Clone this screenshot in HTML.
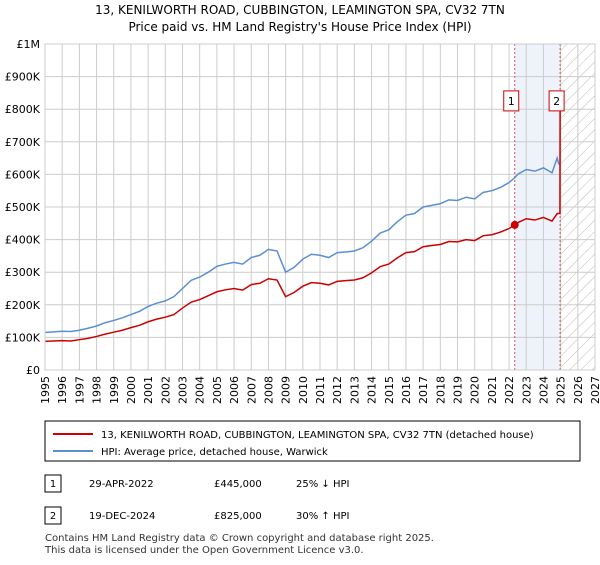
<!DOCTYPE html>
<html><head><meta charset="utf-8"><style>
body{margin:0;background:#fff;font-family:"Liberation Sans","DejaVu Sans",sans-serif;}
svg text{font-family:"DejaVu Sans","Liberation Sans",sans-serif;}
</style></head><body>
<svg id="c" width="600" height="560" viewBox="0 0 600 560" xmlns="http://www.w3.org/2000/svg">
<defs><pattern id="hatch" width="8" height="8" patternUnits="userSpaceOnUse" patternTransform="rotate(45)"><line x1="0" y1="0" x2="0" y2="8" stroke="#bbb" stroke-width="1"/></pattern></defs>
<text x="300" y="14" text-anchor="middle" font-size="12">13, KENILWORTH ROAD, CUBBINGTON, LEAMINGTON SPA, CV32 7TN</text>
<text x="300" y="31" text-anchor="middle" font-size="12">Price paid vs. HM Land Registry's House Price Index (HPI)</text>
<g id="plot"></g>
<rect x="45" y="421" width="535" height="40" fill="#fff" stroke="#000"/>
<line x1="53" y1="434" x2="93" y2="434" stroke="#cc0000" stroke-width="2"/>
<text x="101" y="438" font-size="10">13, KENILWORTH ROAD, CUBBINGTON, LEAMINGTON SPA, CV32 7TN (detached house)</text>
<line x1="53" y1="451" x2="93" y2="451" stroke="#5b8fd4" stroke-width="2"/>
<text x="101" y="455" font-size="10">HPI: Average price, detached house, Warwick</text>
<g>
<rect x="45" y="475" width="16" height="17" fill="#fff" stroke="#000"/><text x="53" y="487" font-size="10" text-anchor="middle">1</text>
<text x="89" y="487" font-size="10">29-APR-2022</text><text x="214" y="487" font-size="10">£445,000</text><text x="296" y="487" font-size="10">25% ↓ HPI</text></g>
<g>
<rect x="45" y="507" width="16" height="17" fill="#fff" stroke="#000"/><text x="53" y="519" font-size="10" text-anchor="middle">2</text>
<text x="89" y="519" font-size="10">19-DEC-2024</text><text x="214" y="519" font-size="10">£825,000</text><text x="296" y="519" font-size="10">30% ↑ HPI</text></g>
<text x="45" y="541" font-size="10" fill="#333">Contains HM Land Registry data © Crown copyright and database right 2025.</text>
<text x="45" y="553" font-size="10" fill="#333">This data is licensed under the Open Government Licence v3.0.</text>
</svg>
<script>
const yTicks=[0,100,200,300,400,500,600,700,800,900,1000];
const yTickLabels=["£0","£100K","£200K","£300K","£400K","£500K","£600K","£700K","£800K","£900K","£1M"];
const xYears=[1995,1996,1997,1998,1999,2000,2001,2002,2003,2004,2005,2006,2007,2008,2009,2010,2011,2012,2013,2014,2015,2016,2017,2018,2019,2020,2021,2022,2023,2024,2025,2026,2027];
const hpiT=[1995,1995.5,1996,1996.5,1997,1997.5,1998,1998.5,1999,1999.5,2000,2000.5,2001,2001.5,2002,2002.5,2003,2003.5,2004,2004.5,2005,2005.5,2006,2006.5,2007,2007.5,2008,2008.5,2009,2009.5,2010,2010.5,2011,2011.5,2012,2012.5,2013,2013.5,2014,2014.5,2015,2015.5,2016,2016.5,2017,2017.5,2018,2018.5,2019,2019.5,2020,2020.5,2021,2021.5,2022,2022.33,2022.5,2023,2023.5,2024,2024.5,2024.8,2024.9];
const hpiV=[115,117,119,118,122,128,135,145,152,160,170,180,195,205,212,225,250,275,285,300,318,325,330,325,345,352,370,365,300,315,340,355,352,345,360,362,365,375,395,420,430,455,475,480,500,505,510,522,520,530,525,545,550,560,575,590,600,615,610,620,605,650,630];
const priceT=[1995,1995.5,1996,1996.5,1997,1997.5,1998,1998.5,1999,1999.5,2000,2000.5,2001,2001.5,2002,2002.5,2003,2003.5,2004,2004.5,2005,2005.5,2006,2006.5,2007,2007.5,2008,2008.5,2009,2009.5,2010,2010.5,2011,2011.5,2012,2012.5,2013,2013.5,2014,2014.5,2015,2015.5,2016,2016.5,2017,2017.5,2018,2018.5,2019,2019.5,2020,2020.5,2021,2021.5,2022,2022.33,2022.5,2023,2023.5,2024,2024.5,2024.8,2024.96,2024.97];
const priceV=[88,89,90,89,93,97,103,110,116,122,130,137,148,156,162,170,190,208,216,228,240,246,250,245,262,266,280,276,225,238,257,268,266,261,272,274,276,283,298,317,325,344,360,363,378,382,385,394,393,400,397,412,415,423,434,445,452,464,460,468,457,480,480,825];
const sales=[{t:2022.33,v:445,n:"1"},{t:2024.97,v:825,n:"2"}];
const L=45,R=595,T=44,B=370,X0=1995,X1=2027;
const xs=t=>L+(t-X0)/(X1-X0)*(R-L);
const ys=v=>B-v/1000*(B-T);
const NS="http://www.w3.org/2000/svg";
const g=document.getElementById('plot');
function mk(tag,a){const e=document.createElementNS(NS,tag);for(const k in a)e.setAttribute(k,a[k]);g.appendChild(e);return e;}
let e;
e=mk('rect',{x:xs(sales[0].t),y:T,width:xs(sales[1].t)-xs(sales[0].t),height:B-T,fill:'#eef2fb'});


e=mk('rect',{x:xs(sales[1].t),y:T,width:R-xs(sales[1].t),height:B-T,fill:'url(#hatch)'});


yTicks.forEach((v,i)=>{
 e=mk('line',{x1:L,x2:R,y1:ys(v),y2:ys(v),stroke:'#ccc'});
 
 
 e=mk('text',{x:L-5,y:ys(v)+4,'text-anchor':'end','font-size':11});e.textContent=yTickLabels[i];
 
 
});
xYears.forEach(y=>{
 e=mk('line',{x1:xs(y),x2:xs(y),y1:T,y2:B,stroke:'#ccc'});
 
 
 e=mk('text',{x:0,y:0,'font-size':11,'text-anchor':'end',transform:`translate(${xs(y)+4},${B+6}) rotate(-90)`});e.textContent=y;
 
 
});
sales.forEach(s=>{
 e=mk('line',{x1:xs(s.t),x2:xs(s.t),y1:T,y2:B,stroke:'#e05050','stroke-dasharray':'2,2'});
 
 
});
e=mk('polyline',{points:hpiT.map((t,i)=>xs(t)+','+ys(hpiV[i])).join(' '),fill:'none',stroke:'#5b8fd4','stroke-width':1.5});


e=mk('polyline',{points:priceT.map((t,i)=>xs(t)+','+ys(priceV[i])).join(' '),fill:'none',stroke:'#cc0000','stroke-width':1.5});


sales.forEach(s=>{
 e=mk('circle',{cx:xs(s.t),cy:ys(s.v),r:4,fill:'#cc0000'});
 
 
 e=mk('rect',{x:xs(s.t)-11,y:ys(850)-2,width:15,height:20,fill:'#fff',stroke:'#cc0000'});
 
 
 e=mk('text',{x:xs(s.t)-3.5,y:ys(850)+12,'text-anchor':'middle','font-size':11});e.textContent=s.n;
 
 
});
e=mk('rect',{x:L,y:T,width:R-L,height:B-T,fill:'none',stroke:'#ccc'});


</script>
</body></html>
